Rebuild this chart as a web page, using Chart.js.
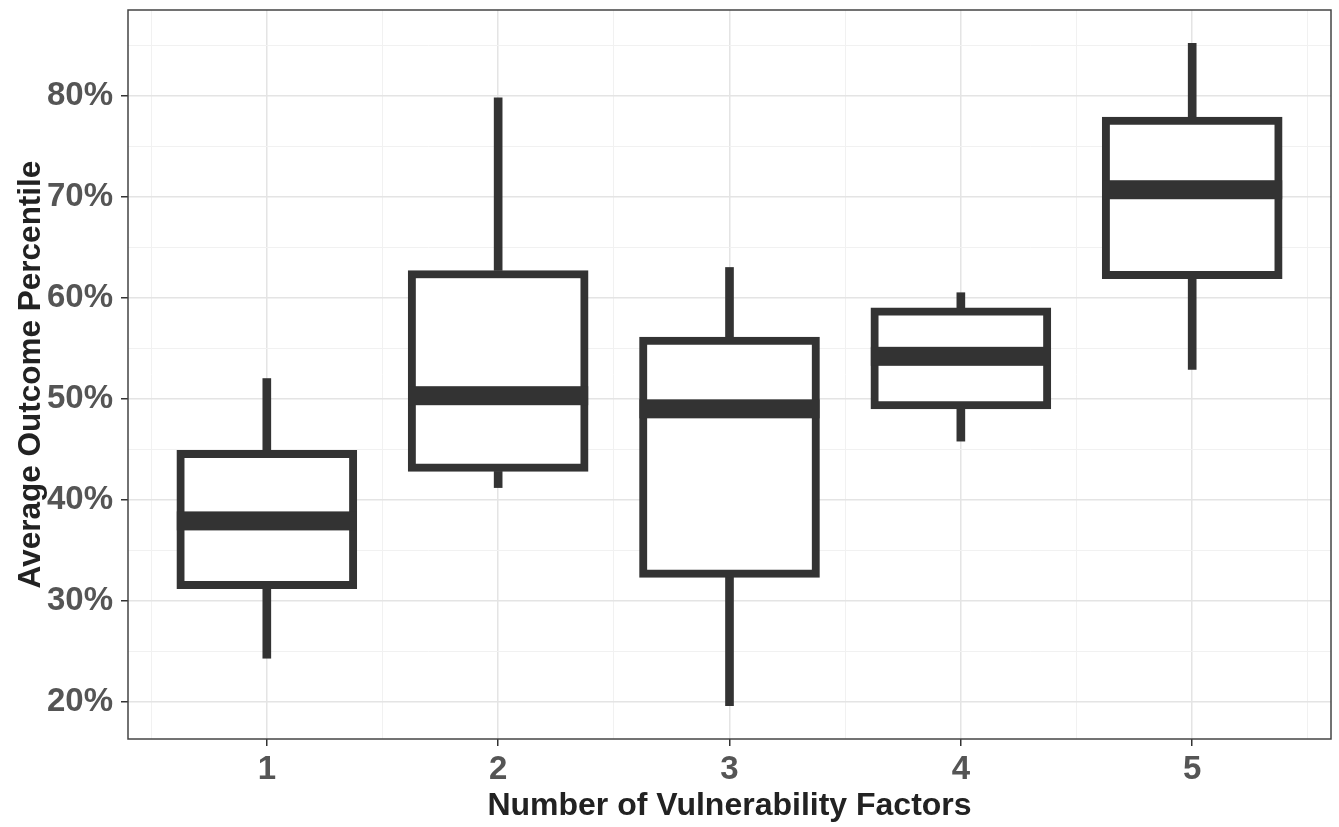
<!DOCTYPE html>
<html>
<head>
    <title>Average Outcome Percentile by Number of Vulnerability Factors</title>
    <script src="https://cdn.jsdelivr.net/npm/chart.js@4.4.1/dist/chart.umd.min.js"></script>
    <style>
        html, body { margin: 0; padding: 0; background: #fff; }
        #wrap { width: 1339px; height: 827px; position: relative; }
    </style>
</head>
<body>
    <div id="wrap"><canvas id="grafico"></canvas></div>
    <script>
        // dados (percentis)
        const categories = [1, 2, 3, 4, 5];
        const whiskerLow = [24.3, 41.2, 19.6, 45.8, 52.9];
        const q1 = [31.2, 42.8, 32.3, 49.0, 61.9];
        const median = [37.9, 50.3, 49.0, 54.2, 70.7];
        const q3 = [44.9, 62.7, 56.1, 59.0, 77.9];
        const whiskerHigh = [52.0, 79.8, 63.0, 60.5, 85.2];

        const yTicks = [20, 25, 30, 35, 40, 45, 50, 55, 60, 65, 70, 75, 80, 85];
        const xTicks = [0.5, 1, 1.5, 2, 2.5, 3, 3.5, 4, 4.5, 5, 5.5];

        const dark = '#333333';
        const isMajorY = v => v % 10 === 0;
        const isMajorX = v => Number.isInteger(v);
        // contexto do grid pode vir sem tick
        const tickVal = c => (c && c.tick) ? c.tick.value : NaN;

        // mediana e moldura do painel
        const boxExtras = {
            id: 'boxExtras',
            afterDatasetsDraw(chart) {
                const ctx = chart.ctx;
                const y = chart.scales.y;
                const meta = chart.getDatasetMeta(0);
                ctx.save();
                ctx.fillStyle = dark;
                meta.data.forEach((bar, i) => {
                    const py = y.getPixelForValue(median[i]);
                    ctx.fillRect(bar.x - bar.width / 2, py - 9.5, bar.width, 19);
                });
                const a = chart.chartArea;
                ctx.strokeStyle = '#444';
                ctx.lineWidth = 1.5;
                ctx.strokeRect(a.left, a.top, a.right - a.left, a.bottom - a.top);
                ctx.restore();
            }
        };

        const ctx = document.getElementById('grafico').getContext('2d');
        new Chart(ctx, {
            type: 'bar',
            data: {
                datasets: [{
                    label: 'caixa',
                    data: categories.map((c, i) => ({ x: c, y: [q1[i], q3[i]] })),
                    backgroundColor: '#ffffff',
                    borderColor: dark,
                    borderWidth: 8,
                    borderSkipped: false,
                    barThickness: 180,
                    grouped: false,
                    order: 0
                }, {
                    label: 'bigode inferior',
                    data: categories.map((c, i) => ({ x: c, y: [whiskerLow[i], q1[i]] })),
                    backgroundColor: dark,
                    borderWidth: 0,
                    barThickness: 8,
                    grouped: false,
                    order: 1
                }, {
                    label: 'bigode superior',
                    data: categories.map((c, i) => ({ x: c, y: [q3[i], whiskerHigh[i]] })),
                    backgroundColor: dark,
                    borderWidth: 0,
                    barThickness: 8,
                    grouped: false,
                    order: 1
                }]
            },
            options: {
                responsive: true,
                maintainAspectRatio: false,
                animation: false,
                layout: { padding: { left: 8, right: 8, top: 10, bottom: 0 } },
                plugins: { legend: { display: false }, tooltip: { enabled: false } },
                scales: {
                    x: {
                        type: 'linear',
                        min: 0.4,
                        max: 5.6,
                        offset: false,
                        afterBuildTicks: s => { s.ticks = xTicks.map(v => ({ value: v })); },
                        afterFit: s => { s.height = 88; s.paddingLeft = 0; s.paddingRight = 0; },
                        border: { display: false },
                        grid: {
                            offset: false,
                            color: c => isMajorX(tickVal(c)) ? '#e4e4e4' : '#f1f1f1',
                            lineWidth: c => isMajorX(tickVal(c)) ? 1.5 : 1,
                            tickColor: c => isMajorX(tickVal(c)) ? dark : 'rgba(0,0,0,0)',
                            tickLength: 7,
                            tickWidth: 1.5
                        },
                        ticks: {
                            padding: 4,
                            maxRotation: 0,
                            autoSkip: false,
                            color: '#555555',
                            font: { family: 'Liberation Sans', size: 33, weight: 'bold' },
                            callback: v => isMajorX(v) ? String(v) : ''
                        },
                        title: {
                            display: true,
                            text: 'Number of Vulnerability Factors',
                            color: '#222222',
                            padding: { top: 0, bottom: 2 },
                            font: { family: 'Liberation Sans', size: 32, weight: 'bold' }
                        }
                    },
                    y: {
                        min: 16.3,
                        max: 88.5,
                        afterBuildTicks: s => { s.ticks = yTicks.map(v => ({ value: v })); },
                        afterFit: s => { s.width = 120; s.paddingTop = 0; s.paddingBottom = 0; },
                        border: { display: false },
                        grid: {
                            color: c => isMajorY(tickVal(c)) ? '#e4e4e4' : '#f1f1f1',
                            lineWidth: c => isMajorY(tickVal(c)) ? 1.5 : 1,
                            tickColor: c => isMajorY(tickVal(c)) ? dark : 'rgba(0,0,0,0)',
                            tickLength: 7,
                            tickWidth: 1.5
                        },
                        ticks: {
                            padding: 8,
                            autoSkip: false,
                            color: '#555555',
                            font: { family: 'Liberation Sans', size: 33, weight: 'bold' },
                            callback: v => isMajorY(v) ? v + '%' : ''
                        },
                        title: {
                            display: true,
                            text: 'Average Outcome Percentile',
                            color: '#222222',
                            padding: { top: 4, bottom: 0 },
                            font: { family: 'Liberation Sans', size: 31.5, weight: 'bold' }
                        }
                    }
                }
            },
            plugins: [boxExtras]
        });
    </script>
</body>
</html>
